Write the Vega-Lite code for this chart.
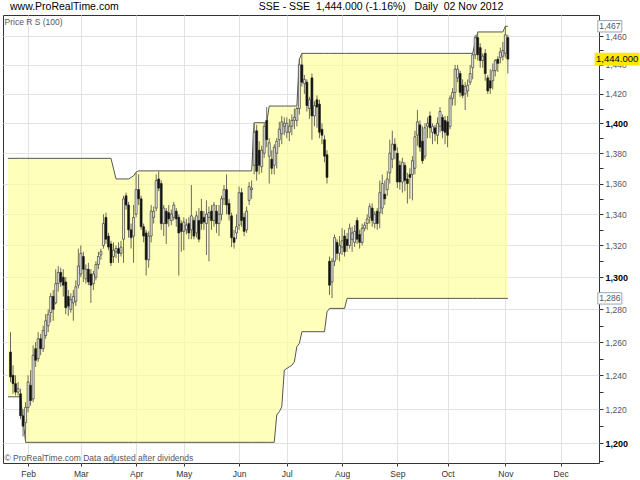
{
  "$schema": "https://vega.github.io/schema/vega-lite/v6.json",
  "width": 596,
  "height": 448,
  "autosize": {"type": "none"},
  "padding": {"left": 3, "top": 15, "right": 41, "bottom": 17},
  "background": "#ffffff",
  "title": {
    "text": "www.ProRealTime.com\u00a0\u00a0\u00a0\u00a0\u00a0\u00a0\u00a0\u00a0\u00a0\u00a0\u00a0\u00a0\u00a0\u00a0\u00a0\u00a0\u00a0\u00a0\u00a0\u00a0\u00a0\u00a0\u00a0\u00a0\u00a0\u00a0\u00a0\u00a0\u00a0\u00a0\u00a0\u00a0\u00a0\u00a0\u00a0\u00a0\u00a0\u00a0\u00a0\u00a0\u00a0\u00a0\u00a0\u00a0\u00a0\u00a0\u00a0\u00a0SSE - SSE\u00a0\u00a01,444.000 (-1.16%)\u00a0\u00a0\u00a0Daily\u00a0\u00a002 Nov 2012",
    "anchor": "start",
    "frame": "group",
    "dx": 7,
    "dy": 10,
    "offset": 5,
    "baseline": "alphabetic",
    "font": "Liberation Sans",
    "fontSize": 10.5,
    "fontWeight": "normal",
    "color": "#000000"
  },
  "datasets": {
    "band": [
      {"t": -8, "lo": 1227.2, "hi": 1376.6},
      {"t": -3, "lo": 1227.2, "hi": 1376.6},
      {"t": -2, "lo": 1214, "hi": 1376.6},
      {"t": -1, "lo": 1200.6, "hi": 1376.6},
      {"t": 33, "lo": 1200.6, "hi": 1376.6},
      {"t": 35, "lo": 1200.6, "hi": 1363},
      {"t": 40, "lo": 1200.6, "hi": 1363},
      {"t": 42, "lo": 1200.6, "hi": 1365},
      {"t": 43, "lo": 1200.6, "hi": 1367.5},
      {"t": 44, "lo": 1200.6, "hi": 1368.3},
      {"t": 89, "lo": 1200.6, "hi": 1368.3},
      {"t": 90, "lo": 1200.6, "hi": 1400.4},
      {"t": 95, "lo": 1200.6, "hi": 1400.4},
      {"t": 96, "lo": 1200.6, "hi": 1411.7},
      {"t": 98, "lo": 1200.6, "hi": 1411.7},
      {"t": 99, "lo": 1216.5, "hi": 1411.7},
      {"t": 100, "lo": 1218.4, "hi": 1411.7},
      {"t": 101, "lo": 1221.3, "hi": 1411.7},
      {"t": 102, "lo": 1243.1, "hi": 1411.7},
      {"t": 103, "lo": 1244.1, "hi": 1411.7},
      {"t": 105, "lo": 1246, "hi": 1411.7},
      {"t": 106, "lo": 1248.1, "hi": 1411.7},
      {"t": 107, "lo": 1257.2, "hi": 1411.7},
      {"t": 108, "lo": 1259.2, "hi": 1444},
      {"t": 109, "lo": 1266.3, "hi": 1448},
      {"t": 118, "lo": 1266.3, "hi": 1448},
      {"t": 119, "lo": 1278.5, "hi": 1448},
      {"t": 120, "lo": 1280.6, "hi": 1448},
      {"t": 126, "lo": 1280.6, "hi": 1448},
      {"t": 127, "lo": 1286.8, "hi": 1448},
      {"t": 177, "lo": 1286.8, "hi": 1448},
      {"t": 179, "lo": 1286.8, "hi": 1463},
      {"t": 189, "lo": 1286.8, "hi": 1463},
      {"t": 190, "lo": 1286.8, "hi": 1467},
      {"t": 191, "lo": 1286.8, "hi": 1467}
    ],
    "candles": [
      {"t": -7, "open": 1254, "high": 1266, "low": 1236, "close": 1239},
      {"t": -6, "open": 1240, "high": 1246, "low": 1229, "close": 1235},
      {"t": -5, "open": 1235, "high": 1240, "low": 1228, "close": 1230},
      {"t": -4, "open": 1230, "high": 1236, "low": 1228, "close": 1232},
      {"t": -3, "open": 1229, "high": 1232, "low": 1214, "close": 1216},
      {"t": -2, "open": 1216, "high": 1220, "low": 1204, "close": 1210},
      {"t": -1, "open": 1212, "high": 1224, "low": 1201, "close": 1221},
      {"t": 0, "open": 1221, "high": 1240, "low": 1218, "close": 1236},
      {"t": 1, "open": 1234, "high": 1243, "low": 1222, "close": 1225},
      {"t": 2, "open": 1226, "high": 1258, "low": 1224, "close": 1252},
      {"t": 3, "open": 1256, "high": 1260, "low": 1245, "close": 1249},
      {"t": 4, "open": 1250, "high": 1266, "low": 1248, "close": 1262},
      {"t": 5, "open": 1262, "high": 1265, "low": 1252, "close": 1256},
      {"t": 6, "open": 1256, "high": 1270, "low": 1254, "close": 1267},
      {"t": 7, "open": 1264, "high": 1277, "low": 1262, "close": 1273},
      {"t": 8, "open": 1270, "high": 1280, "low": 1266, "close": 1277},
      {"t": 9, "open": 1278, "high": 1290, "low": 1272, "close": 1288},
      {"t": 10, "open": 1288, "high": 1292, "low": 1273, "close": 1280},
      {"t": 11, "open": 1284, "high": 1305, "low": 1283, "close": 1296},
      {"t": 12, "open": 1296, "high": 1307, "low": 1291, "close": 1303},
      {"t": 13, "open": 1303, "high": 1306, "low": 1294, "close": 1297},
      {"t": 14, "open": 1300, "high": 1305, "low": 1288, "close": 1295},
      {"t": 15, "open": 1297, "high": 1300, "low": 1277, "close": 1281},
      {"t": 16, "open": 1288, "high": 1292, "low": 1276, "close": 1282},
      {"t": 17, "open": 1280, "high": 1290, "low": 1278, "close": 1286},
      {"t": 18, "open": 1284, "high": 1292, "low": 1273, "close": 1288},
      {"t": 19, "open": 1285, "high": 1298, "low": 1282, "close": 1294},
      {"t": 20, "open": 1295, "high": 1318, "low": 1293, "close": 1307},
      {"t": 21, "open": 1302, "high": 1320, "low": 1300, "close": 1315},
      {"t": 22, "open": 1313, "high": 1316, "low": 1297, "close": 1305},
      {"t": 23, "open": 1299, "high": 1308, "low": 1296, "close": 1305},
      {"t": 24, "open": 1305, "high": 1309, "low": 1295, "close": 1297},
      {"t": 25, "open": 1302, "high": 1305, "low": 1284, "close": 1295},
      {"t": 26, "open": 1296, "high": 1304, "low": 1292, "close": 1302},
      {"t": 27, "open": 1300, "high": 1310, "low": 1298, "close": 1308},
      {"t": 28, "open": 1308, "high": 1316, "low": 1305, "close": 1313},
      {"t": 29, "open": 1314, "high": 1318, "low": 1311, "close": 1316},
      {"t": 30, "open": 1320, "high": 1340, "low": 1318, "close": 1334},
      {"t": 31, "open": 1338, "high": 1341, "low": 1321, "close": 1324},
      {"t": 32, "open": 1326, "high": 1328, "low": 1317, "close": 1319},
      {"t": 33, "open": 1321, "high": 1323, "low": 1307, "close": 1309},
      {"t": 34, "open": 1313, "high": 1322, "low": 1309, "close": 1317},
      {"t": 35, "open": 1316, "high": 1320, "low": 1312, "close": 1318},
      {"t": 36, "open": 1318, "high": 1322, "low": 1309, "close": 1315},
      {"t": 37, "open": 1315, "high": 1323, "low": 1313, "close": 1319},
      {"t": 38, "open": 1324, "high": 1352, "low": 1309, "close": 1350},
      {"t": 39, "open": 1352, "high": 1354, "low": 1343, "close": 1346},
      {"t": 40, "open": 1346, "high": 1348, "low": 1325, "close": 1330},
      {"t": 41, "open": 1330, "high": 1334, "low": 1318, "close": 1325},
      {"t": 42, "open": 1326, "high": 1346, "low": 1309, "close": 1338},
      {"t": 43, "open": 1340, "high": 1367, "low": 1338, "close": 1356},
      {"t": 44, "open": 1356, "high": 1366, "low": 1346, "close": 1350},
      {"t": 45, "open": 1350, "high": 1352, "low": 1330, "close": 1332},
      {"t": 46, "open": 1332, "high": 1334, "low": 1322, "close": 1326},
      {"t": 47, "open": 1328, "high": 1330, "low": 1301, "close": 1311},
      {"t": 48, "open": 1311, "high": 1329, "low": 1306, "close": 1326},
      {"t": 49, "open": 1326, "high": 1346, "low": 1322, "close": 1342},
      {"t": 50, "open": 1338, "high": 1345, "low": 1334, "close": 1342},
      {"t": 51, "open": 1344, "high": 1366, "low": 1342, "close": 1362},
      {"t": 52, "open": 1363, "high": 1368, "low": 1355, "close": 1357},
      {"t": 53, "open": 1360, "high": 1362, "low": 1330, "close": 1334},
      {"t": 54, "open": 1334, "high": 1346, "low": 1326, "close": 1344},
      {"t": 55, "open": 1342, "high": 1344, "low": 1321, "close": 1334},
      {"t": 56, "open": 1341, "high": 1346, "low": 1332, "close": 1337},
      {"t": 57, "open": 1336, "high": 1343, "low": 1333, "close": 1340},
      {"t": 58, "open": 1338, "high": 1348, "low": 1336, "close": 1346},
      {"t": 59, "open": 1342, "high": 1344, "low": 1332, "close": 1337},
      {"t": 60, "open": 1338, "high": 1340, "low": 1301, "close": 1328},
      {"t": 61, "open": 1334, "high": 1336, "low": 1316, "close": 1329},
      {"t": 62, "open": 1329, "high": 1338, "low": 1317, "close": 1335},
      {"t": 63, "open": 1330, "high": 1337, "low": 1327, "close": 1333},
      {"t": 64, "open": 1334, "high": 1338, "low": 1324, "close": 1328},
      {"t": 65, "open": 1330, "high": 1359, "low": 1324, "close": 1339},
      {"t": 66, "open": 1336, "high": 1338, "low": 1324, "close": 1326},
      {"t": 67, "open": 1328, "high": 1342, "low": 1325, "close": 1339},
      {"t": 68, "open": 1336, "high": 1344, "low": 1322, "close": 1324},
      {"t": 69, "open": 1342, "high": 1350, "low": 1330, "close": 1334},
      {"t": 70, "open": 1338, "high": 1342, "low": 1330, "close": 1335},
      {"t": 71, "open": 1334, "high": 1349, "low": 1314, "close": 1340},
      {"t": 72, "open": 1338, "high": 1345, "low": 1310, "close": 1341},
      {"t": 73, "open": 1342, "high": 1346, "low": 1330, "close": 1336},
      {"t": 74, "open": 1336, "high": 1348, "low": 1332, "close": 1346},
      {"t": 75, "open": 1342, "high": 1346, "low": 1328, "close": 1334},
      {"t": 76, "open": 1334, "high": 1346, "low": 1326, "close": 1340},
      {"t": 77, "open": 1340, "high": 1352, "low": 1336, "close": 1350},
      {"t": 78, "open": 1350, "high": 1359, "low": 1346, "close": 1356},
      {"t": 79, "open": 1356, "high": 1366, "low": 1340, "close": 1346},
      {"t": 80, "open": 1347, "high": 1350, "low": 1336, "close": 1340},
      {"t": 81, "open": 1339, "high": 1341, "low": 1319, "close": 1325},
      {"t": 82, "open": 1325, "high": 1330, "low": 1318, "close": 1322},
      {"t": 83, "open": 1328, "high": 1340, "low": 1324, "close": 1332},
      {"t": 84, "open": 1333, "high": 1358, "low": 1330, "close": 1354},
      {"t": 85, "open": 1354, "high": 1357, "low": 1332, "close": 1336},
      {"t": 86, "open": 1338, "high": 1341, "low": 1326, "close": 1329},
      {"t": 87, "open": 1330, "high": 1345, "low": 1328, "close": 1342},
      {"t": 88, "open": 1349, "high": 1361, "low": 1346, "close": 1358},
      {"t": 89, "open": 1356, "high": 1362, "low": 1350, "close": 1357},
      {"t": 90, "open": 1372, "high": 1400, "low": 1366, "close": 1394},
      {"t": 91, "open": 1395, "high": 1399, "low": 1362, "close": 1368},
      {"t": 92, "open": 1382, "high": 1388, "low": 1366, "close": 1372},
      {"t": 93, "open": 1371, "high": 1385, "low": 1367, "close": 1382},
      {"t": 94, "open": 1380, "high": 1400, "low": 1377, "close": 1398},
      {"t": 95, "open": 1402, "high": 1411, "low": 1384, "close": 1389},
      {"t": 96, "open": 1378, "high": 1390, "low": 1360, "close": 1387},
      {"t": 97, "open": 1376, "high": 1382, "low": 1366, "close": 1370},
      {"t": 98, "open": 1372, "high": 1386, "low": 1366, "close": 1384},
      {"t": 99, "open": 1380, "high": 1390, "low": 1370, "close": 1388},
      {"t": 100, "open": 1389, "high": 1401, "low": 1384, "close": 1396},
      {"t": 101, "open": 1393, "high": 1405, "low": 1386, "close": 1401},
      {"t": 102, "open": 1398, "high": 1404, "low": 1392, "close": 1400},
      {"t": 103, "open": 1394, "high": 1404, "low": 1390, "close": 1400},
      {"t": 104, "open": 1394, "high": 1403, "low": 1388, "close": 1398},
      {"t": 105, "open": 1398, "high": 1406, "low": 1392, "close": 1402},
      {"t": 106, "open": 1402, "high": 1410, "low": 1396, "close": 1404},
      {"t": 107, "open": 1402, "high": 1411, "low": 1398, "close": 1410},
      {"t": 108, "open": 1410, "high": 1444, "low": 1406, "close": 1440},
      {"t": 109, "open": 1440, "high": 1448, "low": 1425, "close": 1428},
      {"t": 110, "open": 1427, "high": 1433, "low": 1420, "close": 1430},
      {"t": 111, "open": 1428, "high": 1430, "low": 1408, "close": 1412},
      {"t": 112, "open": 1410, "high": 1418, "low": 1403, "close": 1416},
      {"t": 113, "open": 1431, "high": 1434, "low": 1389, "close": 1405},
      {"t": 114, "open": 1405, "high": 1415, "low": 1398, "close": 1412},
      {"t": 115, "open": 1416, "high": 1419, "low": 1397, "close": 1411},
      {"t": 116, "open": 1413, "high": 1416, "low": 1390, "close": 1394},
      {"t": 117, "open": 1396, "high": 1400, "low": 1386, "close": 1392},
      {"t": 118, "open": 1389, "high": 1392, "low": 1374, "close": 1378},
      {"t": 119, "open": 1379, "high": 1382, "low": 1360, "close": 1364},
      {"t": 120, "open": 1310, "high": 1313, "low": 1289, "close": 1295},
      {"t": 121, "open": 1297, "high": 1312, "low": 1287, "close": 1310},
      {"t": 122, "open": 1310, "high": 1327, "low": 1307, "close": 1325},
      {"t": 123, "open": 1322, "high": 1324, "low": 1311, "close": 1315},
      {"t": 124, "open": 1315, "high": 1326, "low": 1310, "close": 1320},
      {"t": 125, "open": 1319, "high": 1331, "low": 1314, "close": 1323},
      {"t": 126, "open": 1326, "high": 1330, "low": 1313, "close": 1316},
      {"t": 127, "open": 1324, "high": 1328, "low": 1316, "close": 1320},
      {"t": 128, "open": 1320, "high": 1334, "low": 1318, "close": 1331},
      {"t": 129, "open": 1324, "high": 1332, "low": 1316, "close": 1328},
      {"t": 130, "open": 1322, "high": 1333, "low": 1319, "close": 1329},
      {"t": 131, "open": 1336, "high": 1338, "low": 1321, "close": 1324},
      {"t": 132, "open": 1327, "high": 1330, "low": 1318, "close": 1322},
      {"t": 133, "open": 1322, "high": 1334, "low": 1320, "close": 1331},
      {"t": 134, "open": 1331, "high": 1335, "low": 1329, "close": 1333},
      {"t": 135, "open": 1334, "high": 1340, "low": 1330, "close": 1337},
      {"t": 136, "open": 1338, "high": 1347, "low": 1334, "close": 1345},
      {"t": 137, "open": 1344, "high": 1347, "low": 1332, "close": 1336},
      {"t": 138, "open": 1334, "high": 1342, "low": 1331, "close": 1340},
      {"t": 139, "open": 1342, "high": 1344, "low": 1330, "close": 1334},
      {"t": 140, "open": 1341, "high": 1362, "low": 1331, "close": 1354},
      {"t": 141, "open": 1344, "high": 1366, "low": 1340, "close": 1360},
      {"t": 142, "open": 1353, "high": 1362, "low": 1346, "close": 1350},
      {"t": 143, "open": 1356, "high": 1368, "low": 1352, "close": 1363},
      {"t": 144, "open": 1367, "high": 1389, "low": 1360, "close": 1380},
      {"t": 145, "open": 1376, "high": 1395, "low": 1370, "close": 1386},
      {"t": 146, "open": 1386, "high": 1390, "low": 1376, "close": 1382},
      {"t": 147, "open": 1380, "high": 1384, "low": 1357, "close": 1361},
      {"t": 148, "open": 1372, "high": 1375, "low": 1356, "close": 1361},
      {"t": 149, "open": 1361, "high": 1377, "low": 1354, "close": 1374},
      {"t": 150, "open": 1372, "high": 1374, "low": 1355, "close": 1362},
      {"t": 151, "open": 1363, "high": 1367, "low": 1347, "close": 1360},
      {"t": 152, "open": 1366, "high": 1370, "low": 1350, "close": 1364},
      {"t": 153, "open": 1366, "high": 1378, "low": 1349, "close": 1375},
      {"t": 154, "open": 1370, "high": 1395, "low": 1366, "close": 1391},
      {"t": 155, "open": 1392, "high": 1409, "low": 1385, "close": 1401},
      {"t": 156, "open": 1399, "high": 1402, "low": 1381, "close": 1384},
      {"t": 157, "open": 1388, "high": 1398, "low": 1373, "close": 1375},
      {"t": 158, "open": 1378, "high": 1400, "low": 1376, "close": 1397},
      {"t": 159, "open": 1398, "high": 1404, "low": 1390, "close": 1400},
      {"t": 160, "open": 1405, "high": 1408, "low": 1390, "close": 1397},
      {"t": 161, "open": 1394, "high": 1400, "low": 1386, "close": 1398},
      {"t": 162, "open": 1397, "high": 1399, "low": 1388, "close": 1393},
      {"t": 163, "open": 1392, "high": 1404, "low": 1386, "close": 1400},
      {"t": 164, "open": 1398, "high": 1411, "low": 1394, "close": 1408},
      {"t": 165, "open": 1404, "high": 1406, "low": 1390, "close": 1395},
      {"t": 166, "open": 1402, "high": 1405, "low": 1386, "close": 1394},
      {"t": 167, "open": 1401, "high": 1405, "low": 1384, "close": 1392},
      {"t": 168, "open": 1398, "high": 1419, "low": 1396, "close": 1417},
      {"t": 169, "open": 1417, "high": 1424, "low": 1412, "close": 1421},
      {"t": 170, "open": 1421, "high": 1440, "low": 1412, "close": 1437},
      {"t": 171, "open": 1431, "high": 1440, "low": 1428, "close": 1437},
      {"t": 172, "open": 1434, "high": 1436, "low": 1418, "close": 1421},
      {"t": 173, "open": 1426, "high": 1430, "low": 1417, "close": 1419},
      {"t": 174, "open": 1420, "high": 1428, "low": 1409, "close": 1425},
      {"t": 175, "open": 1422, "high": 1430, "low": 1418, "close": 1426},
      {"t": 176, "open": 1428, "high": 1440, "low": 1426, "close": 1434},
      {"t": 177, "open": 1438, "high": 1448, "low": 1430, "close": 1447},
      {"t": 178, "open": 1447, "high": 1461, "low": 1444, "close": 1459},
      {"t": 179, "open": 1459, "high": 1463, "low": 1443, "close": 1447},
      {"t": 180, "open": 1452, "high": 1455, "low": 1438, "close": 1443},
      {"t": 181, "open": 1443, "high": 1448, "low": 1438, "close": 1446},
      {"t": 182, "open": 1448, "high": 1451, "low": 1429, "close": 1434},
      {"t": 183, "open": 1431, "high": 1433, "low": 1420, "close": 1422},
      {"t": 184, "open": 1429, "high": 1437, "low": 1420, "close": 1424},
      {"t": 185, "open": 1429, "high": 1441, "low": 1423, "close": 1436},
      {"t": 186, "open": 1436, "high": 1444, "low": 1432, "close": 1443},
      {"t": 187, "open": 1444, "high": 1446, "low": 1435, "close": 1441},
      {"t": 188, "open": 1445, "high": 1452, "low": 1441, "close": 1449},
      {"t": 189, "open": 1446, "high": 1456, "low": 1443, "close": 1450},
      {"t": 190, "open": 1448, "high": 1467, "low": 1445, "close": 1461},
      {"t": 191, "open": 1459, "high": 1461, "low": 1434, "close": 1444}
    ],
    "markers": [
      {"v": 1467, "label": "1,467", "kind": "range"},
      {"v": 1286.8, "label": "1,286", "kind": "range"},
      {"v": 1444, "label": "1,444.000", "kind": "last"}
    ]
  },
  "layer": [
    {
      "data": {"name": "band"},
      "mark": {"type": "area", "color": "#ffff99", "opacity": 0.66},
      "encoding": {
        "x": {
          "field": "t",
          "type": "quantitative",
          "scale": {"domain": [-8, 225.3], "nice": false, "zero": false},
          "axis": {
            "values": [0, 21, 43, 62, 84, 103, 125, 147, 167, 190, 212],
            "labelExpr": "['Feb','Mar','Apr','May','Jun','Jul','Aug','Sep','Oct','Nov','Dec'][indexof([0,21,43,62,84,103,125,147,167,190,212], datum.value)]",
            "domain": false,
            "grid": true,
            "gridColor": "#e2e2e2",
            "tickSize": 3,
            "tickColor": "#333333",
            "labelPadding": 3,
            "labelFont": "Liberation Sans Narrow, Liberation Sans",
            "labelFontSize": 8.5,
            "labelColor": "#333333",
            "labelFlush": false,
            "labelOverlap": false,
            "title": "© ProRealTime.com  Data adjusted after dividends",
            "titleX": 1,
            "titleY": -3,
            "titleAlign": "left",
            "titleBaseline": "alphabetic",
            "titleFont": "Liberation Sans",
            "titleFontSize": 8.5,
            "titleFontWeight": "normal",
            "titleColor": "#555555"
          }
        },
        "y": {
          "field": "lo",
          "type": "quantitative",
          "scale": {"type": "log", "domain": [1188.7, 1475], "nice": false},
          "axis": {
            "orient": "right",
            "values": [1190, 1200, 1210, 1220, 1230, 1240, 1250, 1260, 1270, 1280, 1290, 1300, 1310, 1320, 1330, 1340, 1350, 1360, 1370, 1380, 1390, 1400, 1410, 1420, 1430, 1440, 1450, 1460, 1470],
            "format": ",d",
            "labelExpr": "datum.value % 20 === 0 ? datum.label : ''",
            "domain": false,
            "grid": true,
            "gridColor": "#e2e2e2",
            "gridOpacity": {"condition": {"test": "datum.value % 20 === 0", "value": 1}, "value": 0},
            "tickSize": 4,
            "tickColor": "#333333",
            "labelPadding": 2,
            "labelFlush": false,
            "labelOverlap": false,
            "labelFont": {"condition": {"test": "datum.value % 100 === 0", "value": "Liberation Sans"}, "value": "Liberation Sans Narrow, Liberation Sans"},
            "labelFontSize": {"condition": {"test": "datum.value % 100 === 0", "value": 9}, "value": 8.5},
            "labelFontWeight": {"condition": {"test": "datum.value % 100 === 0", "value": "bold"}, "value": "normal"},
            "labelColor": {"condition": {"test": "datum.value % 100 === 0", "value": "#000000"}, "value": "#555555"},
            "title": "Price R S (100)",
            "titleAngle": 0,
            "titleAlign": "left",
            "titleBaseline": "middle",
            "titleX": -595,
            "titleY": 6.5,
            "titleFont": "Liberation Sans",
            "titleFontSize": 8.5,
            "titleFontWeight": "normal",
            "titleColor": "#555555"
          }
        },
        "y2": {"field": "hi"}
      }
    },
    {
      "data": {"name": "band"},
      "mark": {"type": "line", "color": "#555555", "strokeWidth": 1},
      "encoding": {
        "x": {"field": "t", "type": "quantitative"},
        "y": {"field": "hi", "type": "quantitative"}
      }
    },
    {
      "data": {"name": "band"},
      "mark": {"type": "line", "color": "#555555", "strokeWidth": 1},
      "encoding": {
        "x": {"field": "t", "type": "quantitative"},
        "y": {"field": "lo", "type": "quantitative"}
      }
    },
    {
      "data": {"name": "candles"},
      "mark": {"type": "rule", "color": "#6b6b5c", "strokeWidth": 1},
      "encoding": {
        "x": {"field": "t", "type": "quantitative"},
        "y": {"field": "low", "type": "quantitative"},
        "y2": {"field": "high"}
      }
    },
    {
      "data": {"name": "candles"},
      "mark": {"type": "bar", "size": 2, "stroke": "#222222", "strokeWidth": 0.6},
      "encoding": {
        "x": {"field": "t", "type": "quantitative"},
        "y": {"field": "open", "type": "quantitative"},
        "y2": {"field": "close"},
        "fill": {"condition": {"test": "datum.close < datum.open", "value": "#111111"}, "value": "#eeeeee"}
      }
    },
    {
      "data": {"name": "markers"},
      "transform": [{"filter": "datum.kind === 'range'"}],
      "mark": {"type": "point", "shape": "M-1,-0.475L1,-0.475L1,0.475L-1,0.475Z", "size": 576, "filled": true, "fill": "#ffffff", "stroke": "#93a6ba", "strokeWidth": 1, "opacity": 1},
      "encoding": {
        "x": {"datum": 231.6, "type": "quantitative"},
        "y": {"field": "v", "type": "quantitative"}
      }
    },
    {
      "data": {"name": "markers"},
      "transform": [{"filter": "datum.kind === 'range'"}],
      "mark": {"type": "text", "font": "Liberation Sans Narrow, Liberation Sans", "fontSize": 8.5, "color": "#555555", "align": "center", "baseline": "middle"},
      "encoding": {
        "x": {"datum": 231.6, "type": "quantitative"},
        "y": {"field": "v", "type": "quantitative"},
        "text": {"field": "label"}
      }
    },
    {
      "data": {"name": "markers"},
      "transform": [{"filter": "datum.kind === 'last'"}],
      "mark": {"type": "point", "shape": "M-1,-0.282L1,-0.282L1,0.282L-1,0.282Z", "size": 2025, "filled": true, "fill": "#ffe800", "strokeWidth": 0, "opacity": 1},
      "encoding": {
        "x": {"datum": 234.5, "type": "quantitative"},
        "y": {"field": "v", "type": "quantitative"}
      }
    },
    {
      "data": {"name": "markers"},
      "transform": [{"filter": "datum.kind === 'last'"}],
      "mark": {"type": "text", "font": "Liberation Sans", "fontSize": 9.5, "color": "#000000", "align": "left", "baseline": "middle"},
      "encoding": {
        "x": {"datum": 226.1, "type": "quantitative"},
        "y": {"field": "v", "type": "quantitative"},
        "text": {"field": "label"}
      }
    }
  ],
  "config": {
    "view": {"stroke": "#333333", "strokeWidth": 1},
    "axis": {"gridWidth": 1}
  }
}
